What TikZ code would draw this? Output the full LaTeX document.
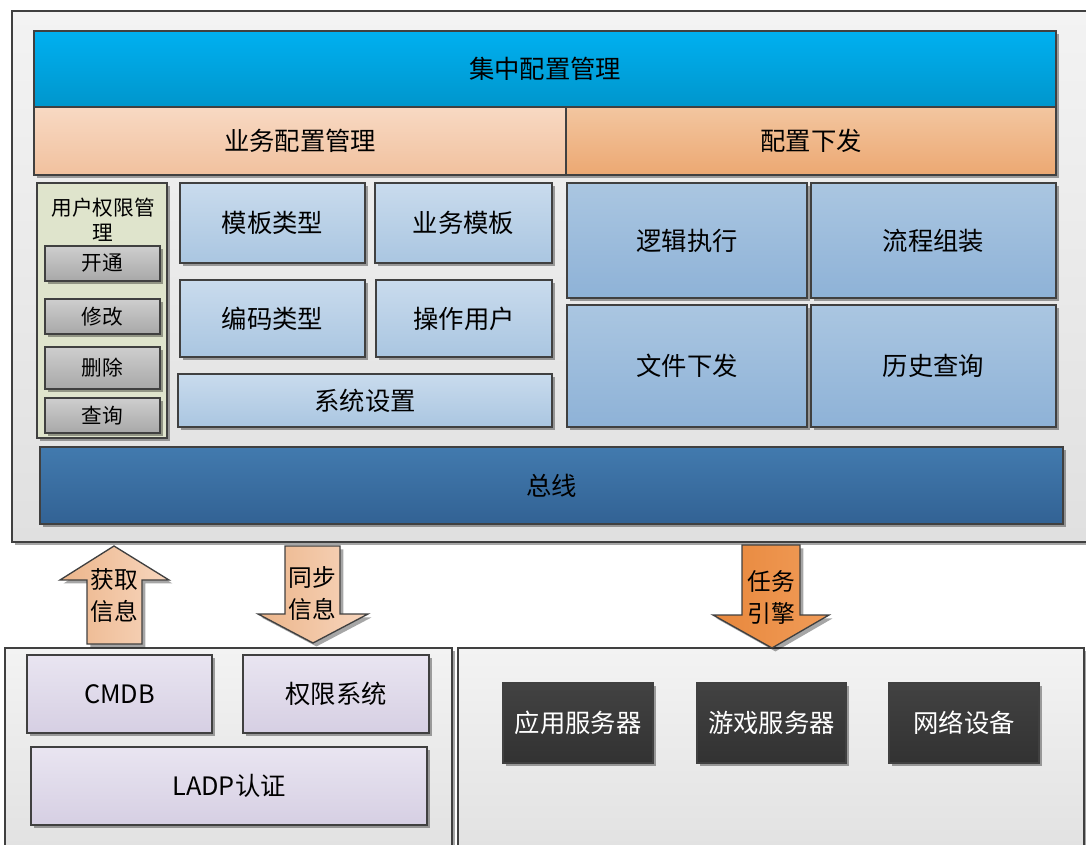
\documentclass[tikz,border=0pt]{standalone}
\usepackage{fontspec}
\setmainfont{Noto Sans CJK SC}
\usetikzlibrary{shadows}
\definecolor{edge}{HTML}{404040}
\tikzset{
  shad/.style={drop shadow={shadow xshift=2.6pt, shadow yshift=-2.6pt, opacity=0.35, fill=black}},
  base/.style={draw=edge, line width=1pt, inner sep=0pt, outer sep=0pt, align=center,
    font=\fontsize{19}{23}\selectfont, shad},
  container/.style={base, top color={rgb,255:red,243;green,243;blue,243}, bottom color={rgb,255:red,224;green,224;blue,224}},
  topbar/.style={base, top color={rgb,255:red,0;green,176;blue,240}, bottom color={rgb,255:red,0;green,150;blue,204}},
  peachbar/.style={base, top color={rgb,255:red,248;green,217;blue,195}, bottom color={rgb,255:red,241;green,193;blue,158}},
  orangebar/.style={base, top color={rgb,255:red,243;green,198;blue,160}, bottom color={rgb,255:red,236;green,168;blue,114}},
  userpanel/.style={base, fill={rgb,255:red,223;green,228;blue,204}},
  graybtn/.style={base, top color={rgb,255:red,206;green,206;blue,206}, bottom color={rgb,255:red,168;green,168;blue,168}, font=\fontsize{15.5}{19}\selectfont},
  lightblue/.style={base, top color={rgb,255:red,201;green,219;blue,237}, bottom color={rgb,255:red,170;green,198;blue,225}},
  midblue/.style={base, top color={rgb,255:red,170;green,198;blue,225}, bottom color={rgb,255:red,142;green,178;blue,215}},
  busbar/.style={base, top color={rgb,255:red,66;green,122;blue,174}, bottom color={rgb,255:red,50;green,98;blue,148}},
  lavender/.style={base, top color={rgb,255:red,233;green,229;blue,241}, bottom color={rgb,255:red,214;green,207;blue,227}},
  darkbox/.style={base, top color={rgb,255:red,66;green,66;blue,66}, bottom color={rgb,255:red,50;green,50;blue,50}, text=white},
  peacharrow/.style={draw=edge, line width=1pt, shad, left color={rgb,255:red,236;green,181;blue,138}, right color={rgb,255:red,247;green,214;blue,190}},
  orangearrow/.style={draw=edge, line width=1pt, shad, left color={rgb,255:red,231;green,135;blue,60}, right color={rgb,255:red,241;green,156;blue,88}},
  arrowtext/.style={inner sep=0pt, align=center, font=\fontsize{17.8}{24}\selectfont},
}
\newcommand\mybox[7]{\node[#2, minimum width={(#5-#3)*0.75pt}, minimum height={(#6-#4)*0.75pt}] (#1) at ({(#3+#5)/2},{(#4+#6)/2}) {#7};}
\begin{document}
\begin{tikzpicture}[x=0.75pt,y=-0.75pt]
\useasboundingbox (0,0) rectangle (1086,845);
\clip (0,0) rectangle (1086,845);
% containers
\mybox{top}{container}{12}{11}{1100}{542}{}
\mybox{botleft}{container}{5}{648}{452}{870}{}
\mybox{botright}{container}{458}{648}{1084}{870}{}
% header bars
\mybox{jz}{topbar}{34}{31}{1056}{107}{集中配置管理}
\mybox{yw}{peachbar}{34}{107}{566}{175}{业务配置管理}
\mybox{pz}{orangebar}{566}{107}{1056}{175}{配置下发}
% user permission panel
\mybox{up}{userpanel}{37}{183}{167}{438}{}
\node[inner sep=0pt, align=center, font=\fontsize{15.5}{19}\selectfont] (uptitle) at (103,220) {用户权限管\\理};
\mybox{kt}{graybtn}{45}{246}{160}{281}{开通}
\mybox{xg}{graybtn}{45}{299}{160}{334}{修改}
\mybox{sc}{graybtn}{45}{347}{160}{389}{删除}
\mybox{cx}{graybtn}{45}{398}{160}{433}{查询}
% middle boxes
\mybox{mblx}{lightblue}{180}{183}{365}{263}{模板类型}
\mybox{ywmb}{lightblue}{375}{183}{552}{263}{业务模板}
\mybox{bmlx}{lightblue}{180}{280}{365}{357}{编码类型}
\mybox{czyh}{lightblue}{376}{280}{552}{357}{操作用户}
\mybox{xtsz}{lightblue}{178}{374}{552}{427}{系统设置}
% right boxes
\mybox{ljzx}{midblue}{567}{183}{807}{298}{逻辑执行}
\mybox{lczz}{midblue}{811}{183}{1056}{298}{流程组装}
\mybox{wjxf}{midblue}{567}{305}{807}{427}{文件下发}
\mybox{lscx}{midblue}{811}{305}{1056}{427}{历史查询}
% bus
\mybox{bus}{busbar}{40}{447}{1063}{524}{总线}
% bottom left boxes
\mybox{cmdb}{lavender}{27}{655}{212}{733}{CMDB}
\mybox{qxxt}{lavender}{243}{655}{429}{733}{权限系统}
\mybox{ladp}{lavender}{31}{747}{427}{825}{LADP认证}
% bottom right boxes
\mybox{yyfwq}{darkbox}{503}{683}{653}{763}{应用服务器}
\mybox{yxfwq}{darkbox}{697}{683}{846}{763}{游戏服务器}
\mybox{wlsb}{darkbox}{889}{683}{1039}{763}{网络设备}
% arrows
\path[peacharrow] (87,644) -- (87,580) -- (60,580) -- (114,546) -- (169,580) -- (142,580) -- (142,644) -- cycle;
\node[arrowtext] (hqxx) at (114,596) {获取\\信息};
\path[peacharrow] (285,546) -- (340,546) -- (340,614) -- (368,614) -- (313,643) -- (258,614) -- (285,614) -- cycle;
\node[arrowtext] (tbxx) at (312,594) {同步\\信息};
\path[orangearrow] (742,545) -- (800,545) -- (800,615) -- (829,615) -- (772,648) -- (713,615) -- (742,615) -- cycle;
\node[arrowtext] (rwyq) at (771,597) {任务\\引擎};
\end{tikzpicture}
\end{document}
